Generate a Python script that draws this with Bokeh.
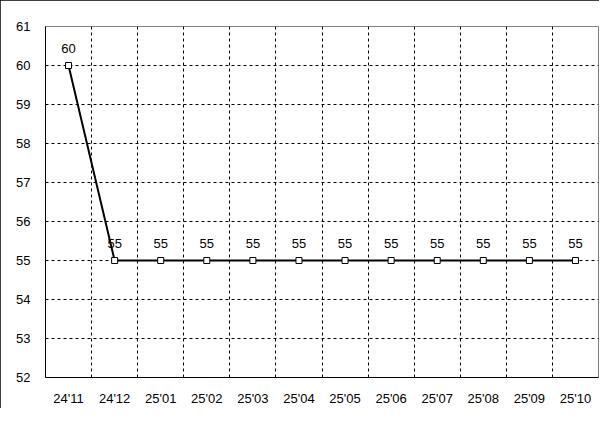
from bokeh.plotting import figure
from bokeh.models import FixedTicker, ColumnDataSource, Range1d
from bokeh.core.properties import value
from bokeh.embed import file_html
from bokeh.resources import INLINE

months = ["24'11", "24'12", "25'01", "25'02", "25'03", "25'04",
          "25'05", "25'06", "25'07", "25'08", "25'09", "25'10"]
values = [60, 55, 55, 55, 55, 55, 55, 55, 55, 55, 55, 55]
y_ticks = [52, 53, 54, 55, 56, 57, 58, 59, 60, 61]

FONT = "Liberation Sans"
xs = list(range(len(months)))
src = ColumnDataSource(dict(x=xs, y=values, lab=[str(v) for v in values]))

p = figure(width=599, height=408, output_backend="svg", toolbar_location=None,
           x_range=Range1d(-0.5, len(months) - 0.5),
           y_range=Range1d(y_ticks[0], y_ticks[-1]),
           min_border_left=45, min_border_right=1, min_border_top=26, min_border_bottom=27)
p.styles = {"outline": "1px solid black", "outline-offset": "-1px"}
p.background_fill_color = "white"
p.border_fill_color = "white"
p.outline_line_color = "#808080"
p.outline_line_width = 1

# axes
p.xaxis.ticker = FixedTicker(ticks=xs)
p.xaxis.major_label_overrides = {i: m for i, m in enumerate(months)}
p.yaxis.ticker = FixedTicker(ticks=y_ticks)
for ax in (p.xaxis[0], p.yaxis[0]):
    ax.axis_line_color = "black"
    ax.axis_line_width = 1
    ax.major_tick_line_color = None
    ax.minor_tick_line_color = None
    ax.major_tick_out = 0
    ax.major_tick_in = 0
    ax.major_label_text_font = FONT
    ax.major_label_text_font_size = "13px"
    ax.major_label_text_color = "black"
p.yaxis.major_label_standoff = 15
p.xaxis.major_label_standoff = 13

# grids at category boundaries / inner y values
p.xgrid.ticker = FixedTicker(ticks=[i + 0.5 for i in xs[:-1]])
p.ygrid.ticker = FixedTicker(ticks=y_ticks[1:-1])
for g in (p.xgrid[0], p.ygrid[0]):
    g.grid_line_color = "black"
    g.grid_line_dash = "3 3"
    g.grid_line_width = 1

p.line("x", "y", source=src, line_color="black", line_width=2)
p.scatter("x", "y", source=src, marker="square", size=6, fill_color="white",
          line_color="black", line_width=1)
p.text("x", "y", text="lab", source=src, text_font=value(FONT), text_font_size="13px",
       text_align="center", text_baseline="alphabetic", y_offset=-17, text_color="black")

open("out.html", "w").write(file_html(p, INLINE))
